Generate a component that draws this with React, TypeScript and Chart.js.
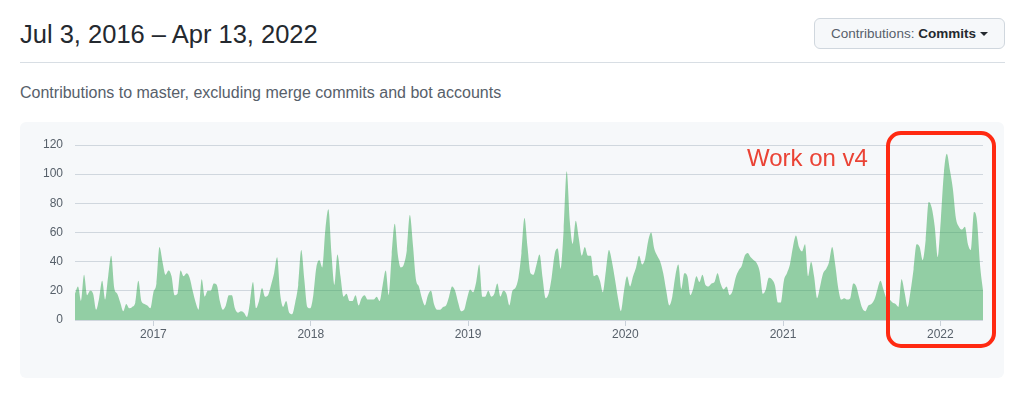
import React, { useEffect, useRef } from "react";
import { Chart, registerables } from "chart.js";

Chart.register(...registerables);

// Weekly commit counts, one value per week starting Sun Jul 3, 2016
const commits2016 = [18, 23, 13, 31, 17, 20, 18, 7, 15, 27, 14, 30, 44, 22, 18, 12, 6, 11, 8, 9, 12, 27, 13, 11, 10, 8];
const commits2017 = [19, 25, 50, 40, 31, 34, 30, 17, 18, 34, 30, 32, 29, 20, 12, 7, 28, 16, 20, 20, 25, 24, 13, 7, 10, 17, 17, 8, 5, 6, 5, 2, 12, 26, 8, 13, 22, 16, 17, 24, 32, 43, 18, 9, 13, 5, 4, 12, 24, 48, 28, 9];
const commits2018 = [8, 17, 36, 41, 36, 62, 76, 46, 24, 45, 30, 16, 18, 13, 13, 17, 10, 15, 17, 14, 14, 14, 16, 13, 24, 34, 17, 45, 66, 45, 36, 38, 48, 72, 52, 28, 23, 15, 10, 17, 20, 11, 7, 7, 9, 10, 16, 23, 20, 12, 6, 7];
const commits2019 = [15, 21, 19, 26, 38, 16, 16, 20, 16, 18, 25, 16, 20, 18, 10, 20, 22, 29, 46, 70, 50, 32, 31, 38, 45, 29, 15, 18, 29, 45, 49, 35, 62, 102, 68, 52, 68, 56, 44, 50, 44, 44, 30, 31, 27, 19, 34, 48, 40, 28, 15, 6];
const commits2020 = [20, 30, 23, 30, 36, 44, 38, 42, 54, 60, 49, 44, 40, 32, 20, 10, 16, 30, 38, 21, 32, 30, 17, 22, 30, 26, 31, 24, 23, 25, 26, 32, 25, 21, 23, 17, 20, 29, 34, 37, 44, 46, 43, 41, 39, 33, 18, 21, 29, 28, 24, 12];
const commits2021 = [12, 27, 32, 38, 50, 58, 50, 47, 52, 30, 40, 30, 15, 23, 32, 35, 40, 50, 38, 22, 14, 15, 14, 15, 25, 23, 15, 8, 6, 10, 11, 14, 21, 27, 21, 15, 14, 12, 11, 9, 28, 19, 9, 20, 35, 52, 50, 41, 55, 81, 77, 64];
const commits2022 = [43, 68, 100, 114, 103, 90, 70, 64, 62, 64, 52, 48, 74, 68, 38, 20];

const startDate = Date.UTC(2016, 6, 3);
const yearTicks = [2017, 2018, 2019, 2020, 2021, 2022];
const yTickValues = [0, 20, 40, 60, 80, 100, 120];

const WEEK = 7 * 24 * 3600 * 1000;

function ChartCanvas() {
  const ref = useRef<HTMLCanvasElement | null>(null);
  useEffect(() => {
    const all = [
      ...commits2016,
      ...commits2017,
      ...commits2018,
      ...commits2019,
      ...commits2020,
      ...commits2021,
      ...commits2022,
    ];
    const points = all.map((v, i) => ({ x: startDate + i * WEEK, y: v }));
    const tickFont = { family: "'Liberation Sans', Helvetica, Arial, sans-serif", size: 12 };
    const chart = new Chart(ref.current!, {
      type: "line",
      data: {
        datasets: [
          {
            data: points,
            fill: "origin",
            backgroundColor: "rgba(45, 164, 78, 0.5)",
            borderWidth: 0,
            borderColor: "rgba(45, 164, 78, 0)",
            pointRadius: 0,
            cubicInterpolationMode: "monotone",
          },
        ],
      },
      options: {
        animation: false,
        responsive: false,
        maintainAspectRatio: false,
        layout: { padding: { top: 23, right: 21, left: 0, bottom: 0 } },
        plugins: { legend: { display: false }, tooltip: { enabled: false } },
        scales: {
          x: {
            type: "linear",
            min: points[0].x,
            max: points[points.length - 1].x,
            border: { display: false },
            grid: {
              drawOnChartArea: false,
              drawTicks: true,
              tickLength: 6,
              color: "#c9d1d9",
            },
            afterBuildTicks: (scale: any) => {
              scale.ticks = yearTicks.map((y) => ({ value: Date.UTC(y, 0, 1) }));
            },
            afterFit: (scale: any) => {
              scale.height = 58;
            },
            ticks: {
              autoSkip: false,
              maxRotation: 0,
              padding: 1,
              color: "#57606a",
              font: tickFont,
              callback: (v: any) => String(new Date(Number(v)).getUTCFullYear()),
            },
          },
          y: {
            min: 0,
            max: 120,
            border: { display: false },
            afterBuildTicks: (scale: any) => {
              scale.ticks = yTickValues.map((v) => ({ value: v }));
            },
            afterFit: (scale: any) => {
              scale.width = 55;
            },
            grid: { drawTicks: false, color: "#d0d7de" },
            ticks: { padding: 12, color: "#57606a", font: tickFont },
          },
        },
      },
    });
    return () => chart.destroy();
  }, []);
  return <canvas ref={ref} width={984} height={256} style={{ display: "block", width: 984, height: 256 }} />;
}

export default function App() {
  const font = "'Liberation Sans', Helvetica, Arial, sans-serif";
  return (
    <div style={{ position: "absolute", left: 0, top: 0, width: 1035, height: 398, background: "#ffffff", fontFamily: font, overflow: "hidden" }}>
      <div style={{ position: "absolute", left: 20, top: 22, fontSize: 25.5, lineHeight: "25px", color: "#24292f", whiteSpace: "nowrap" }}>
        Jul 3, 2016 – Apr 13, 2022
      </div>
      <div
        style={{
          position: "absolute",
          left: 814,
          top: 18,
          width: 191,
          height: 31,
          boxSizing: "border-box",
          border: "1px solid #d0d7de",
          borderRadius: 6,
          background: "#f6f8fa",
          display: "flex",
          alignItems: "center",
          justifyContent: "center",
          fontSize: 13.5,
          color: "#24292f",
          whiteSpace: "nowrap",
        }}
      >
        <span style={{ color: "#57606a" }}>Contributions:&nbsp;</span>
        <span style={{ fontWeight: "bold" }}>Commits</span>
        <span
          style={{
            display: "inline-block",
            marginLeft: 4,
            width: 0,
            height: 0,
            borderLeft: "4px solid transparent",
            borderRight: "4px solid transparent",
            borderTop: "4px solid #24292f",
          }}
        />
      </div>
      <div style={{ position: "absolute", left: 20, top: 62, width: 985, height: 1, background: "#d8dee4" }} />
      <div style={{ position: "absolute", left: 20, top: 85, fontSize: 16, lineHeight: "16px", color: "#57606a", whiteSpace: "nowrap" }}>
        Contributions to master, excluding merge commits and bot accounts
      </div>
      <div style={{ position: "absolute", left: 20, top: 122, width: 984, height: 256, background: "#f6f8fa", borderRadius: 6 }}>
        <ChartCanvas />
      </div>
      <div style={{ position: "absolute", left: 747, top: 146, fontSize: 24, lineHeight: "24px", color: "#ea4335", whiteSpace: "nowrap" }}>
        Work on v4
      </div>
      <div
        style={{
          position: "absolute",
          left: 886,
          top: 131,
          width: 110,
          height: 217,
          boxSizing: "border-box",
          border: "4px solid #ff2a12",
          borderRadius: 15,
        }}
      />
    </div>
  );
}
